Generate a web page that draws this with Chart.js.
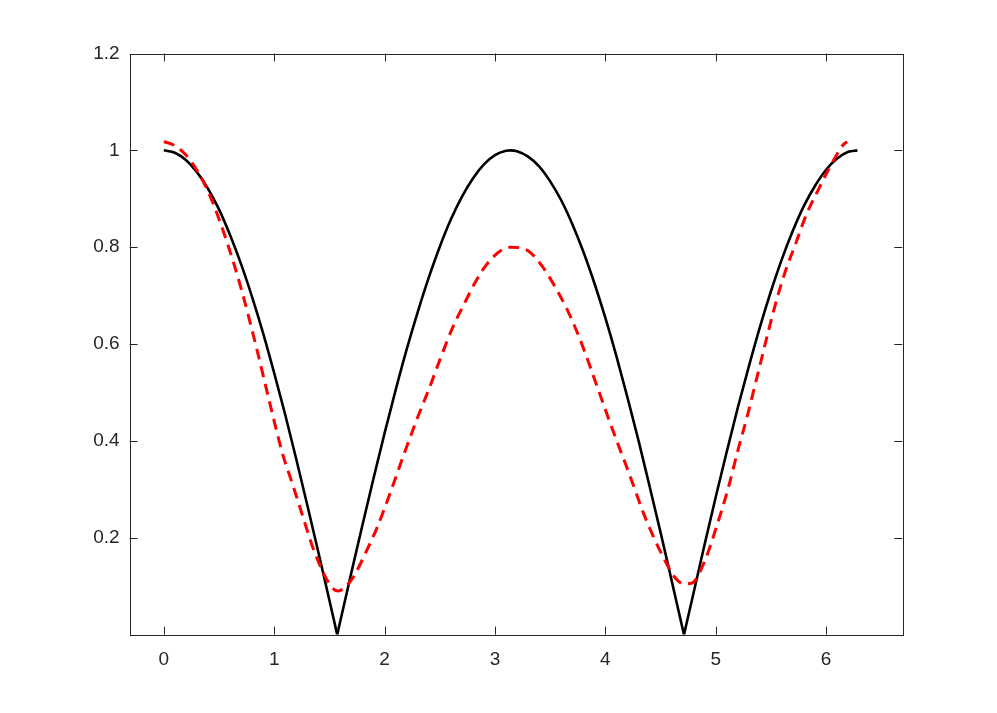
<!DOCTYPE html>
<html>
<head>
<meta charset="utf-8">
<script src="https://cdn.jsdelivr.net/npm/chart.js@4/dist/chart.umd.min.js"></script>
<style>
  body { margin: 0; background: #fff; }
  canvas { display: block; }
</style>
</head>
<body>
<canvas id="myChart" width="997" height="713"></canvas>
<script>
// black curve, |cos x|
const blackX = [0, 0.1, 0.2, 0.3, 0.4, 0.5, 0.6, 0.7, 0.8, 0.9, 1.0, 1.1, 1.2, 1.3, 1.4, 1.5, 1.5708,
    1.6, 1.7, 1.8, 1.9, 2.0, 2.1, 2.2, 2.3, 2.4, 2.5, 2.6, 2.7, 2.8, 2.9, 3.0, 3.1, 3.1416,
    3.2, 3.3, 3.4, 3.5, 3.6, 3.7, 3.8, 3.9, 4.0, 4.1, 4.2, 4.3, 4.4, 4.5, 4.6, 4.7, 4.7124,
    4.8, 4.9, 5.0, 5.1, 5.2, 5.3, 5.4, 5.5, 5.6, 5.7, 5.8, 5.9, 6.0, 6.1, 6.2, 6.2832];
const blackY = [1.000, 0.995, 0.980, 0.955, 0.921, 0.878, 0.825, 0.765, 0.697, 0.622, 0.540, 0.454, 0.362, 0.267, 0.170, 0.071, 0.000,
    0.029, 0.129, 0.227, 0.323, 0.416, 0.505, 0.589, 0.666, 0.737, 0.801, 0.857, 0.904, 0.942, 0.971, 0.990, 0.999, 1.000,
    0.998, 0.987, 0.967, 0.936, 0.897, 0.848, 0.791, 0.726, 0.654, 0.575, 0.490, 0.401, 0.307, 0.211, 0.112, 0.012, 0.000,
    0.087, 0.187, 0.284, 0.378, 0.469, 0.554, 0.635, 0.709, 0.776, 0.835, 0.886, 0.927, 0.960, 0.983, 0.997, 1.000];

// red dashed curve
const redX = [0, 0.08, 0.19, 0.31, 0.42, 0.57, 0.70, 0.84, 0.96, 1.08, 1.16, 1.23, 1.35, 1.44, 1.52, 1.58, 1.65, 1.72,
    1.82, 1.93, 2.05, 2.17, 2.29, 2.40, 2.50, 2.62, 2.73, 2.82, 2.92, 3.06, 3.14, 3.29, 3.42, 3.54,
    3.65, 3.74, 3.82, 3.89, 3.965, 4.04, 4.12, 4.19, 4.27, 4.34, 4.43, 4.52, 4.63, 4.71, 4.78, 4.90,
    5.01, 5.11, 5.20, 5.29, 5.35, 5.41, 5.475, 5.55, 5.63, 5.72, 5.82, 5.93, 6.03, 6.15, 6.19];
const redY = [1.018, 1.012, 0.993, 0.955, 0.905, 0.812, 0.715, 0.592, 0.478, 0.370, 0.315, 0.265, 0.180, 0.130, 0.098, 0.090, 0.100, 0.120,
    0.165, 0.220, 0.292, 0.369, 0.443, 0.506, 0.567, 0.636, 0.687, 0.727, 0.763, 0.794, 0.800, 0.794, 0.763, 0.720,
    0.673, 0.627, 0.580, 0.535, 0.487, 0.439, 0.390, 0.348, 0.298, 0.254, 0.205, 0.162, 0.118, 0.105, 0.106, 0.152,
    0.225, 0.300, 0.380, 0.455, 0.510, 0.565, 0.625, 0.690, 0.750, 0.805, 0.867, 0.919, 0.964, 1.010, 1.018];

const xTicks = [0, 1, 2, 3, 4, 5, 6];
const yTicks = [0.2, 0.4, 0.6, 0.8, 1, 1.2];

const axisColor = '#262626';
const tickFont = { family: '"Liberation Sans", Arial, Helvetica, sans-serif', size: 19 };

function toPoints(xs, ys) {
    return xs.map((x, i) => ({ x: x, y: ys[i] }));
}

// split the black curve at its cusps so the smoothing keeps them sharp
function splitAtZeros(xs, ys) {
    const parts = [];
    let cur = [];
    xs.forEach((x, i) => {
        cur.push({ x: x, y: ys[i] });
        if (ys[i] === 0 && i > 0 && i < xs.length - 1) {
            parts.push(cur);
            cur = [{ x: x, y: ys[i] }];
        }
    });
    parts.push(cur);
    return parts;
}

// box round the axes with inward ticks on all four sides
const boxPlugin = {
    id: 'box',
    afterDatasetsDraw(chart) {
        const { ctx, chartArea: a, scales } = chart;
        const len = 8;
        ctx.save();
        ctx.strokeStyle = axisColor;
        ctx.lineWidth = 1;
        ctx.beginPath();
        scales.x.ticks.forEach(t => {
            const px = Math.round(scales.x.getPixelForValue(t.value)) + 0.5;
            ctx.moveTo(px, a.bottom); ctx.lineTo(px, a.bottom - len);
            ctx.moveTo(px, a.top); ctx.lineTo(px, a.top + len);
        });
        scales.y.ticks.forEach(t => {
            const py = Math.round(scales.y.getPixelForValue(t.value)) + 0.5;
            ctx.moveTo(a.left, py); ctx.lineTo(a.left + len, py);
            ctx.moveTo(a.right, py); ctx.lineTo(a.right - len, py);
        });
        ctx.stroke();
        ctx.strokeRect(Math.round(a.left) + 0.5, Math.round(a.top) + 0.5,
            Math.round(a.right - a.left), Math.round(a.bottom - a.top));
        ctx.restore();
    }
};

const blackSets = splitAtZeros(blackX, blackY).map(pts => ({
    data: pts,
    borderColor: '#000000',
    borderWidth: 2.6,
    pointRadius: 0,
    cubicInterpolationMode: 'monotone',
    fill: false,
    order: 2
}));

const config = {
    type: 'line',
    data: {
        datasets: [{
            label: 'red',
            data: toPoints(redX, redY),
            borderColor: '#ff0000',
            borderWidth: 3,
            borderDash: [11, 7],
            pointRadius: 0,
            cubicInterpolationMode: 'monotone',
            fill: false,
            order: 1
        }].concat(blackSets)
    },
    options: {
        responsive: false,
        animation: false,
        layout: {
            padding: { top: 53.5, right: 94.7, left: 0, bottom: 0 }
        },
        scales: {
            x: {
                type: 'linear',
                min: -0.31,
                max: 6.69,
                afterBuildTicks: s => { s.ticks = xTicks.map(v => ({ value: v })); },
                afterFit: s => { s.height = 78.4; },
                grid: { display: false, drawTicks: false },
                border: { display: false },
                ticks: {
                    autoSkip: false,
                    maxRotation: 0,
                    padding: 14,
                    color: axisColor,
                    font: tickFont,
                    callback: v => String(v)
                }
            },
            y: {
                type: 'linear',
                min: 0,
                max: 1.2,
                afterBuildTicks: s => { s.ticks = yTicks.map(v => ({ value: v })); },
                afterFit: s => { s.width = 129.6; },
                grid: { display: false, drawTicks: false },
                border: { display: false },
                ticks: {
                    autoSkip: false,
                    padding: 10,
                    color: axisColor,
                    font: tickFont,
                    callback: v => String(Number(v.toFixed(1)))
                }
            }
        },
        plugins: {
            legend: { display: false },
            tooltip: { enabled: false }
        }
    },
    plugins: [boxPlugin]
};

const context = document.getElementById('myChart').getContext('2d');
const myChart = new Chart(context, config);
</script>
</body>
</html>
